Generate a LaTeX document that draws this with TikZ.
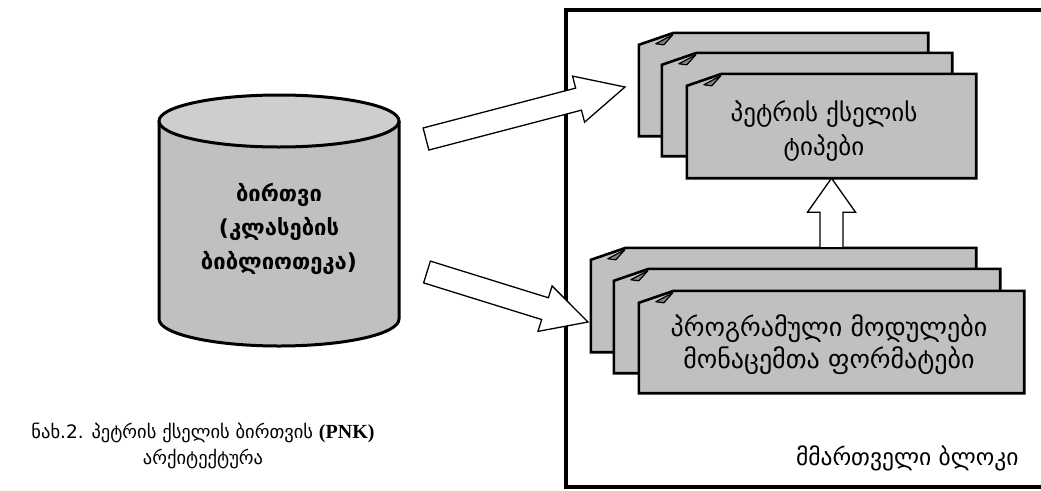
\documentclass[tikz,border=0pt]{standalone}
\usepackage{fontspec}
\setmainfont{DejaVu Sans}
\newfontfamily\geo{DejaVu Sans}
\newfontfamily\tnr{Liberation Serif}
\usetikzlibrary{calc}
\definecolor{boxgray}{RGB}{192,192,192}
\definecolor{topgray}{RGB}{206,206,206}
\definecolor{foldgray}{RGB}{130,130,130}
\tikzset{
  docnode/.style={draw=none, inner sep=0pt},
  docline/.style={draw=black, line width=2.6pt, fill=boxgray, line join=miter},
  foldline/.style={draw=black, line width=1.2pt, fill=foldgray, line join=round},
  blockarr/.style={draw=black, line width=1.3pt, fill=white, line join=miter},
  cylline/.style={draw=black, line width=3pt},
  frameline/.style={draw=black, line width=4pt},
  boxtext/.style={align=center, font=\geo\fontsize{25pt}{34pt}\selectfont},
  cyltext/.style={align=center, font=\geo\bfseries\fontsize{22pt}{34pt}\selectfont},
  captext/.style={align=center, font=\geo\fontsize{18.5pt}{26pt}\selectfont},
}
\newcommand\docbox[5]{%
  \node[docnode, minimum width=#4pt, minimum height=#5pt] (#1) at (#2,#3) {};
  \draw[docline] (#1.south west) -- ([yshift=-12pt]#1.north west) -- ([xshift=35pt]#1.north west) -- (#1.north east) -- (#1.south east) -- cycle;
  \draw[foldline] ([xshift=17pt,yshift=-11pt]#1.north west) -- ([xshift=34pt,yshift=-2pt]#1.north west) -- ([xshift=25pt,yshift=-12pt]#1.north west) -- cycle;
}
\newcommand\blockarrow[5]{%
  \coordinate (hb) at ($(#2)!#5!(#1)$);
  \draw[blockarr] ($(#1)!#3!90:(#2)$) -- ($(hb)!#3!90:(#2)$) -- ($(hb)!#4!90:(#2)$) -- (#2)
    -- ($(hb)!#4!-90:(#2)$) -- ($(hb)!#3!-90:(#2)$) -- ($(#1)!#3!-90:(#2)$) -- cycle;
}
\begin{document}
\begin{tikzpicture}[x=1pt, y=-1pt]
\useasboundingbox (0,0) rectangle (1041,490);
% frame
\draw[frameline] (566,10) rectangle (1048,487);
% cylinder
\fill[boxgray] (159,121) -- (159,319) arc[start angle=180, end angle=360, x radius=120pt, y radius=27pt] -- (399,121) -- cycle;
\draw[cylline] (159,121) -- (159,319) arc[start angle=180, end angle=360, x radius=120pt, y radius=27pt] -- (399,121);
\draw[cylline, fill=topgray] (279,121) ellipse[x radius=120pt, y radius=26pt];
\node[cyltext] (core) at (279,229) {ბირთვი\\(კლასების\\ბიბლიოთეკა)};
% top stack
\docbox{tb1}{783.5}{84.5}{289}{103}
\docbox{tb2}{807}{104.5}{290}{103}
\docbox{tb3}{831.5}{126}{289}{104}
\node[boxtext] (tbtext) at (824,131) {პეტრის ქსელის\\ტიპები};
% bottom stack
\docbox{bb1}{783.5}{300}{385}{104}
\docbox{bb2}{807}{321}{386}{104}
\docbox{bb3}{831.5}{342}{385}{102}
\node[boxtext, font=\geo\fontsize{26pt}{32pt}\selectfont] (bbtext) at (829,345) {პროგრამული მოდულები\\მონაცემთა ფორმატები};
% arrows
\coordinate (a1s) at (426,139);
\coordinate (a1e) at (625,87);
\coordinate (a2s) at (427,272);
\coordinate (a2e) at (588,322);
\coordinate (a3s) at (tb3.south |- bb1.north);
\blockarrow{a1s}{a1e}{11.4pt}{23.8pt}{48pt}
\blockarrow{a2s}{a2e}{11.4pt}{23.8pt}{45pt}
\blockarrow{a3s}{tb3.south}{11.5pt}{24pt}{34pt}
% labels
\node[anchor=east, font=\geo\fontsize{23.5pt}{26pt}\selectfont] (ctrl) at (1022,458) {მმართველი ბლოკი};
\node[captext] (cap) at (203,446) {ნახ.2. პეტრის ქსელის ბირთვის {\tnr\bfseries\fontsize{20pt}{26pt}\selectfont (PNK)}\\არქიტექტურა};
\end{tikzpicture}
\end{document}
